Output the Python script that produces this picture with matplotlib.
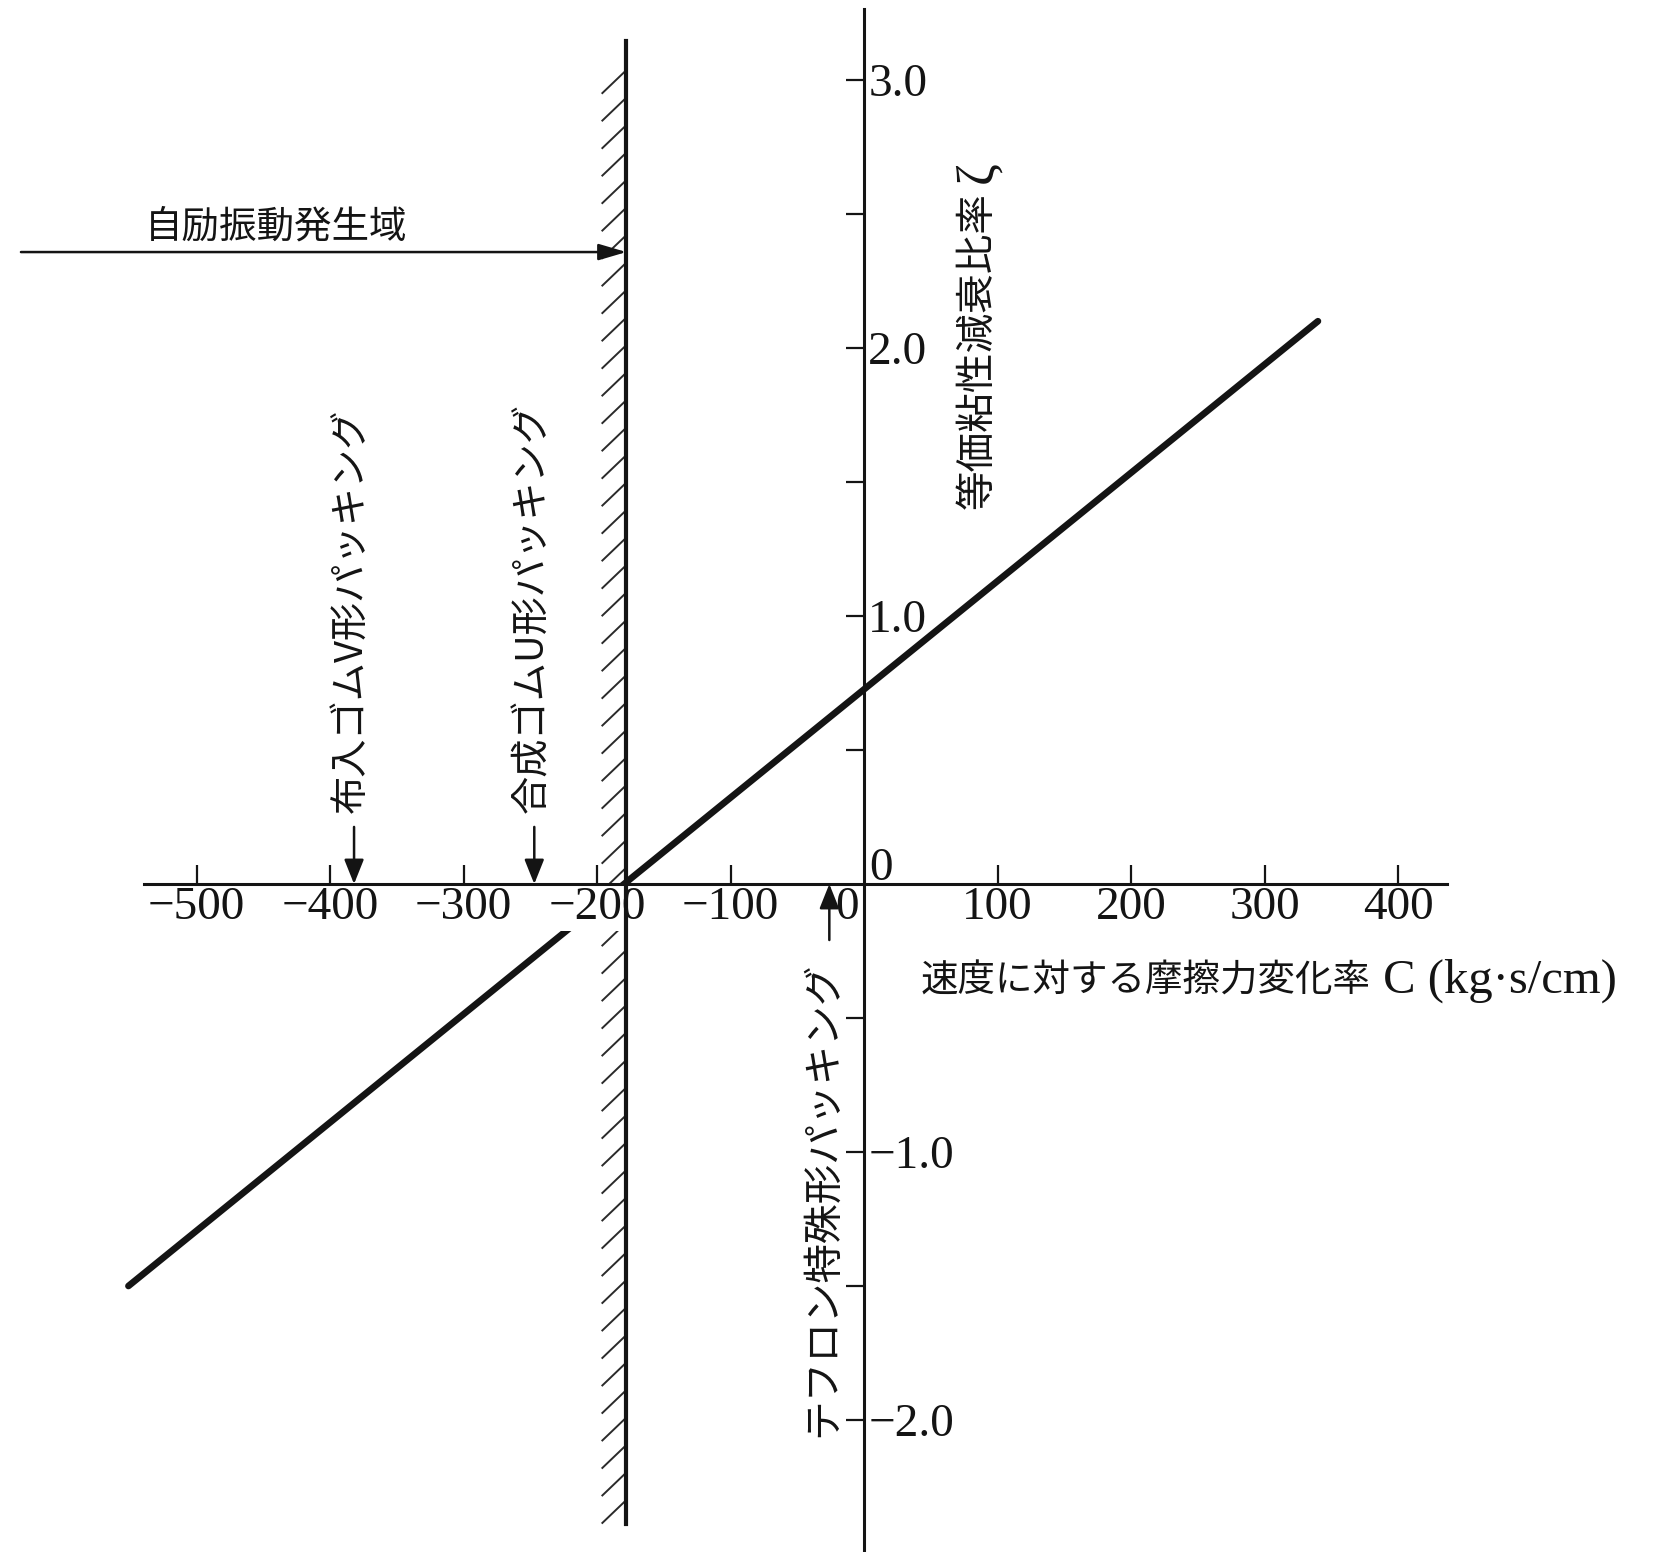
import numpy as np
import matplotlib.pyplot as plt

# Equivalent damping ratio vs. rate of friction change with speed
line_c = [-551, 340]
line_zeta = [-1.50, 2.10]

# boundary of the self-excited vibration region (zeta = 0)
c_limit = -178

packing_names = ["布入ゴムV形パッキング", "合成ゴムU形パッキング", "テフロン特殊形パッキング"]
packing_c = [-382, -247, -26]

x_ticks = [-500, -400, -300, -200, -100, 100, 200, 300, 400]
x_ticklabels = ["−500", "−400", "−300", "−200", "−100", "100", "200", "300", "400"]
y_ticks = [-2.0, -1.5, -1.0, -0.5, 0.5, 1.0, 1.5, 2.0, 2.5, 3.0]
y_ticklabels = ["−2.0", "", "−1.0", "", "", "1.0", "", "2.0", "", "3.0"]

region_label = "自励振動発生域"
x_label = "速度に対する摩擦力変化率"
x_unit = "C (kg·s/cm)"
y_label = "等価粘性減衰比率"
y_symbol = "ζ"

jp = "Noto Sans CJK JP"
num = "Liberation Serif"
ink = "#141414"

fig = plt.figure(figsize=(16.76, 15.52), dpi=100)
ax = fig.add_axes([0, 0, 1, 1])
ax.set_xlim(-647.2, 608.2)
ax.set_ylim(-2.4925, 3.2985)
ax.set_axisbelow(False)

# axes through the origin
for side in ["top", "left"]:
    ax.spines[side].set_visible(False)
ax.spines["bottom"].set_position(("data", 0))
ax.spines["bottom"].set_bounds(-539, 437)
ax.spines["right"].set_position(("data", 0))
ax.spines["right"].set_bounds(-2.6, 3.265)
for side in ["bottom", "right"]:
    ax.spines[side].set_linewidth(2.2)
    ax.spines[side].set_color(ink)
    ax.spines[side].set_zorder(3)

ax.set_xticks(x_ticks)
ax.set_xticklabels(x_ticklabels, fontfamily=num, fontsize=34)
ax.yaxis.tick_right()
ax.set_yticks(y_ticks)
ax.set_yticklabels(y_ticklabels, fontfamily=num, fontsize=34)
ax.tick_params(axis="x", direction="in", length=14, width=1.6, pad=1.5, colors=ink)
ax.tick_params(axis="y", direction="in", length=13, width=1.6, pad=3, colors=ink)
# the -200 label sits on a white patch that breaks the damping line
ax.get_xticklabels()[3].set_bbox(dict(facecolor="white", edgecolor="none", pad=2))

ax.annotate("0", xy=(0, 0), xytext=(-4, -1.5), textcoords="offset points",
            ha="right", va="top", fontsize=34, family=num, color=ink)
ax.annotate("0", xy=(0, 0), xytext=(4, 3), textcoords="offset points",
            ha="left", va="baseline", fontsize=34, family=num, color=ink)

# damping line
ax.plot(line_c, line_zeta, color=ink, lw=4.8, solid_capstyle="round", zorder=2)

# hatched boundary
ax.plot([c_limit, c_limit], [-2.388, 3.146], color=ink, lw=3, zorder=3)
hatch_y = np.arange(3.037, -2.30, -0.1026)
for hy in hatch_y:
    ax.plot([c_limit - 18, c_limit], [hy - 0.0858, hy], color="#2a2a2a", lw=1.4, zorder=2)

ax.annotate("", xy=(c_limit, 2.358), xytext=(-631.5, 2.358),
            arrowprops=dict(arrowstyle="-|>,head_length=0.85,head_width=0.25",
                            mutation_scale=20, lw=1.8, color=ink,
                            shrinkA=0, shrinkB=0))
ax.text(-440, 2.451, region_label, family=jp, fontsize=27, ha="center",
        va="center", color=ink)

# packing markers
for name, c in zip(packing_names, packing_c):
    if c < c_limit:
        ax.annotate("", xy=(c, 0), xytext=(c, 0.213),
                    arrowprops=dict(arrowstyle="-|>,head_length=0.75,head_width=0.3",
                                    mutation_scale=20, lw=1.8, color=ink,
                                    shrinkA=0, shrinkB=0))
        ax.text(c - 1.5, 0.265, name, family=jp, fontsize=27.5, rotation=90,
                ha="center", va="bottom", color=ink)
    else:
        ax.annotate("", xy=(c, 0), xytext=(c, -0.209),
                    arrowprops=dict(arrowstyle="-|>,head_length=0.75,head_width=0.3",
                                    mutation_scale=20, lw=1.8, color=ink,
                                    shrinkA=0, shrinkB=0))
        ax.text(c - 5, -0.29, name, family=jp, fontsize=28.5, rotation=90,
                ha="center", va="top", color=ink)

# axis titles
yl = ax.text(85.4, 1.40, y_label, family=jp, fontsize=28.5, rotation=90,
             ha="center", va="bottom", color=ink)
ax.annotate(y_symbol, xy=(0.5, 1), xycoords=yl, xytext=(0, 6),
            textcoords="offset points", rotation=90, ha="center", va="bottom",
            family=num, fontsize=38, color=ink)
xl = ax.text(42.7, -0.362, x_label, family=jp, fontsize=27, ha="left",
             va="center", color=ink)
ax.annotate(" " + x_unit, xy=(1, 0.5), xycoords=xl, ha="left", va="center",
            family=num, fontsize=35, color=ink)

fig.savefig("out.png", dpi=100, facecolor="white")
